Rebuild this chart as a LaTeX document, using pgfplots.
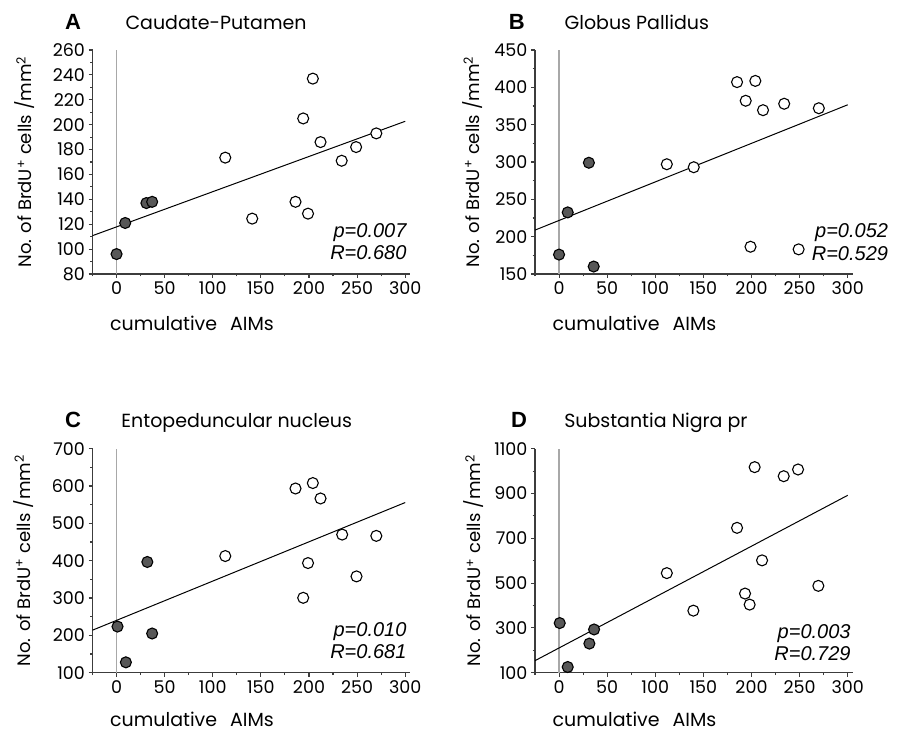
\documentclass[border=0pt]{standalone}
\usepackage{pgfplots}
\pgfplotsset{compat=1.18}
\usepackage{fontspec}
\setmainfont{Poppins}
\newfontfamily\lib{Liberation Sans}
\definecolor{dotgray}{HTML}{585858}
\definecolor{axgray}{HTML}{3C3C3C}
\definecolor{vgray}{HTML}{A8A8A8}
\tikzset{
  ttl/.style={anchor=base, font=\lib\bfseries\fontsize{22}{22}\selectfont},
  ttx/.style={anchor=base west, font=\fontsize{19}{19}\selectfont},
  stat/.style={anchor=base east, font=\lib\itshape\fontsize{20}{20}\selectfont},
}
\pgfplotsset{
  panel/.style={
    scale only axis, width=317.5pt, height=224pt,
    axis lines=left, axis line style={-, axgray, line width=1.2pt},
    xmin=-25, xmax=305,
    xtick={0,50,...,300}, minor xtick={-25,25,...,275},
    tick align=outside, major tick length=4pt, minor tick length=2.5pt,
    tick style={axgray, line width=1.1pt},
    ticklabel style={font=\fontsize{17.5}{17.5}\selectfont},
    /pgf/number format/assume math mode=true,
    /pgf/number format/1000 sep={},
    clip=false, anchor=south west,
    xlabel={cumulative\hspace{13pt}AIMs},
    xlabel style={font=\fontsize{19}{19}\selectfont, inner sep=0pt, at={(axis description cs:0.055,-0.254)}, anchor=base west},
    ylabel={No. of BrdU\textsuperscript{+} cells /mm\textsuperscript{2}},
    ylabel style={font=\fontsize{18}{18}\selectfont, anchor=center},
  },
  opn/.style={only marks, mark=*, mark size=5.5pt, mark options={fill=white, draw=black, line width=1.1pt}},
  fil/.style={only marks, mark=*, mark size=5.5pt, mark options={fill=dotgray, draw=black, line width=1.1pt}},
  reg/.style={black, line width=1pt, no marks},
  zero/.style={vgray, line width=1.4pt, no marks},
}
\begin{document}
\begin{tikzpicture}
\useasboundingbox (0,0) rectangle (908pt,-735pt);
% ---------------- A
\begin{axis}[panel, at={(92.5pt,-274pt)},
  ymin=80, ymax=260, ytick={80,100,...,260}, minor ytick={90,110,...,250},
  ylabel style={at={(axis description cs:-0.2126,0.5)}}]
\addplot[zero] coordinates {(0,80) (0,260)};
\addplot[reg] coordinates {(-25,110.8) (300,202.7)};
\addplot[opn] coordinates {(113,173.5) (141,124.5) (186,138) (194,205) (199,128.5) (204,237) (212,186) (234,171) (249,182) (270,193)};
\addplot[fil] coordinates {(0,96) (9,121) (31,137) (37,138)};
\node[ttl] at (axis description cs:-0.061,1.093) {A};
\node[ttx] at (axis description cs:0.093,1.093) {Caudate-Putamen};
\node[stat] at (axis description cs:1.0,0.164) {p=0.007};
\node[stat] at (axis description cs:1.0,0.0625) {R=0.680};
\end{axis}
% ---------------- B
\begin{axis}[panel, at={(535pt,-274pt)},
  ymin=150, ymax=450, ytick={150,200,...,450}, minor ytick={175,225,...,425},
  ylabel style={at={(axis description cs:-0.198,0.5)}}]
\addplot[zero] coordinates {(0,150) (0,450)};
\addplot[reg] coordinates {(-25,208.8) (300,376.6)};
\addplot[opn] coordinates {(112,297) (140,293) (185,407) (194,382) (199,186.5) (204,408.6) (212,369.4) (234,378) (249,183) (270,372)};
\addplot[fil] coordinates {(0,176) (9,232.5) (31,299) (36,160)};
\node[ttl] at (axis description cs:-0.057,1.093) {B};
\node[ttx] at (axis description cs:0.082,1.093) {Globus Pallidus};
\node[stat] at (axis description cs:1.123,0.164) {p=0.052};
\node[stat] at (axis description cs:1.123,0.06) {R=0.529};
\end{axis}
% ---------------- C
\begin{axis}[panel, at={(92.5pt,-672.7pt)},
  ymin=100, ymax=700, ytick={100,200,...,700}, minor ytick={150,250,...,650},
  ylabel style={at={(axis description cs:-0.218,0.5)}},
  xlabel style={at={(axis description cs:0.055,-0.238)}}]
\addplot[zero] coordinates {(0,100) (0,700)};
\addplot[reg] coordinates {(-25,213.9) (300,555.8)};
\addplot[opn] coordinates {(113,412.5) (186,593.4) (194,300.6) (199,393.7) (204,608) (212,566.7) (234.5,470) (249.4,358) (270,466.5)};
\addplot[fil] coordinates {(1,223.6) (9.7,127.8) (32,396.6) (37,205)};
\node[ttl] at (axis description cs:-0.061,1.093) {C};
\node[ttx] at (axis description cs:0.08,1.093) {Entopeduncular nucleus};
\node[stat] at (axis description cs:1.0,0.161) {p=0.010};
\node[stat] at (axis description cs:1.0,0.0625) {R=0.681};
\end{axis}
% ---------------- D
\begin{axis}[panel, at={(535pt,-672.7pt)},
  ymin=100, ymax=1100, ytick={100,300,...,1100}, minor ytick={200,400,...,1000},
  ylabel style={at={(axis description cs:-0.192,0.5)}},
  xlabel style={at={(axis description cs:0.055,-0.238)}}]
\addplot[zero] coordinates {(0,100) (0,1100)};
\addplot[reg] coordinates {(-25,153.7) (300,891.9)};
\addplot[opn] coordinates {(112,544.6) (139.6,377) (185,746.7) (193.3,453.3) (198.1,404) (203.3,1017.7) (211,601.5) (233.5,977.2) (248.4,1007.2) (269.5,487.7)};
\addplot[fil] coordinates {(0.7,321.6) (9,125.4) (31.5,230) (36.4,293)};
\node[ttl] at (axis description cs:-0.05,1.093) {D};
\node[ttx] at (axis description cs:0.081,1.093) {Substantia Nigra pr};
\node[stat] at (axis description cs:1.005,0.154) {p=0.003};
\node[stat] at (axis description cs:1.005,0.054) {R=0.729};
\end{axis}
\end{tikzpicture}
\end{document}
